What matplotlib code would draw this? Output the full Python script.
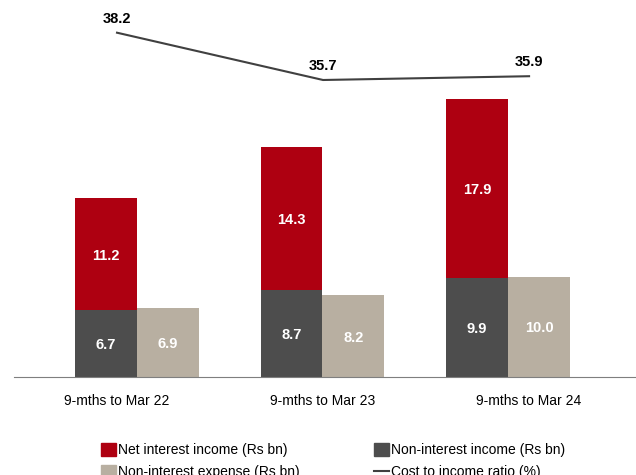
import matplotlib.pyplot as plt
import numpy as np
from matplotlib.patches import Patch
from matplotlib.lines import Line2D

plt.rcParams['font.family'] = ['Liberation Sans', 'DejaVu Sans']

categories = ['9-mths to Mar 22', '9-mths to Mar 23', '9-mths to Mar 24']
net_interest_income = [11.2, 14.3, 17.9]
non_interest_income = [6.7, 8.7, 9.9]
non_interest_expense = [6.9, 8.2, 10.0]
cost_to_income = [38.2, 35.7, 35.9]

RED = '#AE0011'
DARK = '#4D4D4D'
BEIGE = '#B8AFA1'
LINE = '#404040'

W, H = 636, 475
fig = plt.figure(figsize=(W / 100, H / 100), dpi=100)
rect = [14 / W, 98 / H, 622 / W, 367 / H]
ax = fig.add_axes(rect)

x = np.arange(len(categories))
bw = 0.334
dark_bars = ax.bar(x - bw / 2, non_interest_income, bw, color=DARK)
red_bars = ax.bar(x - bw / 2, net_interest_income, bw, bottom=non_interest_income, color=RED)
beige_bars = ax.bar(x + bw / 2, non_interest_expense, bw, color=BEIGE)
ax.set_xlim(-0.663, 2.690)
ax.set_ylim(0, 36.7)

for bars, vals, bottoms in [(dark_bars, non_interest_income, [0] * 3),
                            (red_bars, net_interest_income, non_interest_income),
                            (beige_bars, non_interest_expense, [0] * 3)]:
    for b, v, bot in zip(bars, vals, bottoms):
        ax.text(b.get_x() + b.get_width() / 2, bot + v / 2 - 0.15, f'{v:.1f}',
                ha='center', va='center', color='white', fontsize=10.5, fontweight='bold')

for s in ['top', 'right', 'left']:
    ax.spines[s].set_visible(False)
ax.spines['bottom'].set_color('#7F7F7F')
ax.set_yticks([])
ax.set_xticks([])

# line sits on its own category axis (offset from the bar groups)
ax2 = fig.add_axes(rect)
ax2.patch.set_visible(False)
ax2.plot(x, cost_to_income, color=LINE, lw=1.5)
ax2.set_xlim(-0.5, 2.519)
ax2.set_ylim(20.0, 39.4)
for xi, v in zip(x, cost_to_income):
    ax2.annotate(f'{v:.1f}', (xi, v), xytext=(0, 10), textcoords='offset points',
                 ha='center', va='center', fontsize=10.5, fontweight='bold', color='black')
for s in ax2.spines.values():
    s.set_visible(False)
ax2.set_yticks([])
ax2.set_xticks(x)
ax2.set_xticklabels(categories, fontsize=10, color='black')
ax2.tick_params(axis='x', length=0, pad=12)

handles = [Patch(color=RED), Patch(color=BEIGE), Patch(color=DARK),
           Line2D([], [], color=LINE, lw=1.5)]
labels = ['Net interest income (Rs bn)', 'Non-interest expense (Rs bn)',
          'Non-interest income (Rs bn)', 'Cost to income ratio (%)']
fig.legend(handles, labels, ncol=2, loc='upper left', bbox_to_anchor=(90 / W, 1 - 432 / H),
           frameon=False, fontsize=10, handlelength=1.1, handleheight=1.0,
           handletextpad=0.15, columnspacing=5.3, labelspacing=0.6, borderpad=0.3)

fig.savefig('out.png', dpi=100)
